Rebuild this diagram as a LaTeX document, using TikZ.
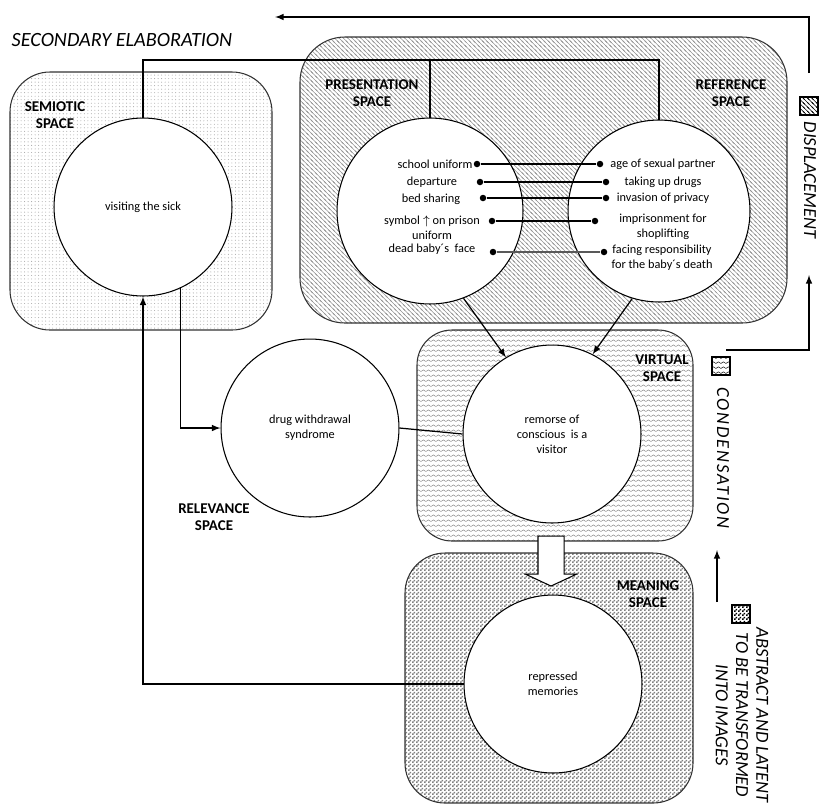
\documentclass[tikz,border=0pt]{standalone}
\usepackage{fontspec}
\setmainfont{Carlito}
\usetikzlibrary{patterns,shapes.arrows}

% fills of the spaces
\pgfdeclarepatternformonly{finedots}{\pgfqpoint{-1pt}{-1pt}}{\pgfqpoint{1pt}{1pt}}{\pgfqpoint{2pt}{2pt}}{\pgfpathcircle{\pgfpointorigin}{0.3pt}\pgfusepath{fill}}
\pgfdeclarepatternformonly{hatch}{\pgfqpoint{-1pt}{-1pt}}{\pgfqpoint{3.5pt}{3.5pt}}{\pgfqpoint{2.5pt}{2.5pt}}{\pgfsetlinewidth{0.3pt}\pgfpathmoveto{\pgfqpoint{0pt}{2.5pt}}\pgfpathlineto{\pgfqpoint{2.5pt}{0pt}}\pgfpathmoveto{\pgfqpoint{-0.5pt}{0.5pt}}\pgfpathlineto{\pgfqpoint{0.5pt}{-0.5pt}}\pgfpathmoveto{\pgfqpoint{2pt}{3pt}}\pgfpathlineto{\pgfqpoint{3pt}{2pt}}\pgfusepath{stroke}}
\pgfdeclarepatternformonly{waves}{\pgfpointorigin}{\pgfqpoint{3pt}{3pt}}{\pgfqpoint{3pt}{3pt}}{\pgfsetlinewidth{0.3pt}\pgfpathmoveto{\pgfqpoint{0pt}{1pt}}\pgfpathlineto{\pgfqpoint{1.5pt}{2pt}}\pgfpathlineto{\pgfqpoint{3pt}{1pt}}\pgfusepath{stroke}}
\pgfdeclarepatternformonly{checker}{\pgfpointorigin}{\pgfqpoint{2pt}{2pt}}{\pgfqpoint{2pt}{2pt}}{\pgfpathrectangle{\pgfpointorigin}{\pgfqpoint{1pt}{1pt}}\pgfpathrectangle{\pgfqpoint{1pt}{1pt}}{\pgfqpoint{1pt}{1pt}}\pgfusepath{fill}}

\begin{document}
\begin{tikzpicture}[x=0.02cm,y=-0.02cm,
  spacebox/.style={draw=black!80,line width=0.6pt,rounded corners=0.8cm,pattern color=gray},
  ideacirc/.style={circle,draw,line width=0.6pt,fill=white,minimum size=3.56cm,align=center,font=\fontsize{7}{8.5}\selectfont},
  itemtxt/.style={align=center,inner sep=1pt,font=\fontsize{7}{8.5}\selectfont},
  spacetag/.style={align=center,font=\fontsize{8.5}{10}\selectfont\bfseries},
  endpt/.style={circle,fill,inner sep=0pt,minimum size=0.13cm},
  link/.style={line width=0.7pt},
  legendsq/.style={draw,line width=0.6pt,minimum size=0.36cm,inner sep=0pt},
  sidetxt/.style={rotate=-90,align=center,font=\fontsize{10.5}{11.5}\selectfont\itshape}]
\useasboundingbox (0,0) rectangle (820,806);

% spaces
\draw[spacebox,pattern=finedots,pattern color=gray!70] (10,72) rectangle (272,330);
\draw[spacebox,pattern=hatch,pattern color=gray!85,rounded corners=0.9cm] (300,37) rectangle (787,323);
\draw[spacebox,pattern=waves,rounded corners=0.7cm] (417,330) rectangle (693,541);
\draw[spacebox,pattern=checker] (405,553) rectangle (693,803);

\node[spacetag] (semtag) at (55,115) {SEMIOTIC\\SPACE};
\node[spacetag] (prestag) at (372,93) {PRESENTATION\\SPACE};
\node[spacetag] (reftag) at (731,93) {REFERENCE\\SPACE};
\node[spacetag] (virttag) at (662,368) {VIRTUAL\\SPACE};
\node[spacetag] (reltag) at (214,517) {RELEVANCE\\SPACE};
\node[spacetag] (meantag) at (648,594) {MEANING\\SPACE};

% circles
\node[ideacirc] (sem) at (143,207) {visiting the sick};
\node[ideacirc,minimum size=3.72cm] (pres) at (430,211) {};
\node[ideacirc,minimum size=3.64cm] (ref) at (659,211) {};
\node[ideacirc] (rel) at (310,428) {drug withdrawal\\syndrome};
\node[ideacirc] (virt) at (552,434) {remorse of\\conscious \ is a\\visitor};
\node[ideacirc] (mean) at (553,684) {repressed\\memories};

% items
\node[itemtxt] (p1) at (435,164) {school uniform};
\node[itemtxt] (p2) at (432,182) {departure};
\node[itemtxt] (p3) at (431,199) {bed sharing};
\node[itemtxt] (p4) at (432,228) {symbol $\uparrow$ on prison\\uniform};
\node[itemtxt] (p5) at (432,249) {dead baby´s \ face};
\node[itemtxt] (r1) at (663,164) {age of sexual partner};
\node[itemtxt] (r2) at (663,182) {taking up drugs};
\node[itemtxt] (r3) at (663,198) {invasion of privacy};
\node[itemtxt] (r4) at (663,227) {imprisonment for\\shoplifting};
\node[itemtxt] (r5) at (662,258) {facing responsibility\\for the baby´s death};

\node[endpt] (pd1) at (477,164) {};
\node[endpt] (pd2) at (480,182) {};
\node[endpt] (pd3) at (483,198) {};
\node[endpt] (pd4) at (492,221) {};
\node[endpt] (pd5) at (493,252) {};
\node[endpt] (rd1) at (600,164) {};
\node[endpt] (rd2) at (606,182) {};
\node[endpt] (rd3) at (606,198) {};
\node[endpt] (rd4) at (595,221) {};
\node[endpt] (rd5) at (604,252) {};
\draw[link] (pd1) -- (rd1);
\draw[link] (pd2) -- (rd2);
\draw[link] (pd3) -- (rd3);
\draw[link] (pd4) -- (rd4);
\draw[link,black!65,line width=1pt] (pd5) -- (rd5);

% connectors
\coordinate (topline) at (0,60);
\draw[link] (sem.north) |- (ref.north |- topline) -- (ref.north);
\draw[link] (pres.north) -- (pres.north |- topline);
\draw[link,-latex] (pres.-69) -- (virt.121);
\draw[link,-latex] (ref.-107) -- (virt.63);
\draw[link,-latex] (sem.-65) |- (rel.west);
\draw[link] (rel.east) -- (virt.west);
\draw[link,-latex] (mean.west) -| (sem.south);
\node[single arrow,draw,fill=white,line width=0.6pt,rotate=-90,minimum height=1cm,minimum width=1cm,single arrow head extend=0.25cm,single arrow tip angle=130,inner xsep=0pt,inner ysep=0.25cm] (sink) at (551,558) {};

% dream work
\node[font=\fontsize{11.5}{13}\selectfont\itshape] (elab) at (122,40) {SECONDARY ELABORATION};
\coordinate (dispTop) at (809,73);
\coordinate (elabEnd) at (275,17);
\draw[link,-latex] (dispTop) |- (elabEnd);
\coordinate (virtOut) at (726,350);
\coordinate (dispBot) at (809,275);
\draw[link,-latex] (virtOut) -| (dispBot);
\coordinate (absOut) at (717,602);
\coordinate (condBot) at (717,550);
\draw[link,-latex] (absOut) -- (condBot);

\node[legendsq,pattern=hatch] (displeg) at (809,106) {};
\node[sidetxt] (displbl) at (810,180) {DISPLACEMENT};
\node[legendsq,pattern=waves] (condleg) at (721,366) {};
\node[sidetxt] (condlbl) at (723,458) {\addfontfeatures{LetterSpace=10}CONDENSATION};
\node[legendsq,pattern=checker] (absleg) at (741,614) {};
\node[sidetxt] (abslbl) at (742,715) {ABSTRACT AND LATENT\\TO BE TRANSFORMED\\INTO IMAGES};
\end{tikzpicture}
\end{document}
